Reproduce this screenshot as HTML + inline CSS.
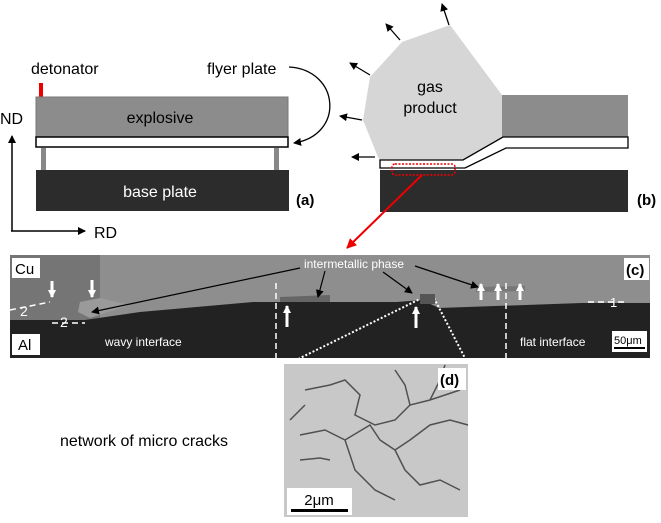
<!DOCTYPE html>
<html><head><meta charset="utf-8"><style>
body{margin:0;background:#fff}
svg{display:block;font-family:"Liberation Sans",Arial,sans-serif}
</style></head><body>
<svg width="661" height="523" viewBox="0 0 661 523" xmlns="http://www.w3.org/2000/svg">
<defs>
<marker id="ah" markerWidth="8" markerHeight="8" refX="7" refY="4" orient="auto" markerUnits="userSpaceOnUse"><path d="M0,0 L8,4 L0,8 z" fill="#000"/></marker>
<marker id="ahr" markerWidth="10" markerHeight="10" refX="9" refY="5" orient="auto" markerUnits="userSpaceOnUse"><path d="M0,0 L10,5 L0,10 z" fill="#e00"/></marker>
<marker id="ahw" markerWidth="8" markerHeight="8" refX="7" refY="4" orient="auto" markerUnits="userSpaceOnUse"><path d="M0,0 L8,4 L0,8 z" fill="#fff"/></marker>
</defs>
<!-- (a) -->
<text x="31" y="74" font-size="16">detonator</text>
<rect x="39" y="83" width="4" height="20" fill="#e00"/>
<rect x="36" y="97" width="252" height="40" fill="#8c8c8c" stroke="#777"/>
<text x="160" y="123" font-size="16" text-anchor="middle">explosive</text>
<rect x="36" y="137" width="252" height="10" fill="#fff" stroke="#000" stroke-width="1.5"/>
<rect x="41" y="148" width="5" height="22" fill="#888"/>
<rect x="274" y="148" width="5" height="22" fill="#888"/>
<rect x="36" y="170" width="253" height="41" fill="#2c2c2c"/>
<text x="160" y="197" font-size="16" text-anchor="middle" fill="#fff">base plate</text>
<text x="296" y="205" font-size="15" font-weight="bold">(a)</text>
<text x="207" y="74" font-size="16">flyer plate</text>
<path d="M289,67 C340,70 345,135 294,143" fill="none" stroke="#000" stroke-width="1.3" marker-end="url(#ah)"/>
<text x="0" y="124" font-size="16">ND</text>
<path d="M12,231 L12,136" stroke="#000" stroke-width="1.5" marker-end="url(#ah)"/>
<path d="M11,231 L85,231" stroke="#000" stroke-width="1.5" marker-end="url(#ah)"/>
<text x="94" y="238" font-size="16">RD</text>
<!-- (b) -->
<polygon points="370,77 402,42 450,25 502,95 503,137 463,160 380,160 378,157 363,120" fill="#d6d6d6"/>
<text x="430" y="92" font-size="16" text-anchor="middle">gas</text>
<text x="430" y="113" font-size="16" text-anchor="middle">product</text>
<rect x="502" y="95" width="126" height="42" fill="#8c8c8c"/>
<path d="M380,160 L463,160 L503,137 L628,137 L628,148 L506,148 L465,168 L380,168 Z" fill="#fff" stroke="#000" stroke-width="1.3"/>
<rect x="380" y="170" width="248" height="42" fill="#2c2c2c"/>
<rect x="392" y="164" width="63" height="11" rx="3" fill="none" stroke="#e00" stroke-width="1.5" stroke-dasharray="2,1.5"/>
<text x="637" y="205" font-size="15" font-weight="bold">(b)</text>
<g stroke="#000" stroke-width="1.3">
<path d="M449,25 L442,4" marker-end="url(#ah)"/>
<path d="M400,40 L386,24" marker-end="url(#ah)"/>
<path d="M370,75 L350,63" marker-end="url(#ah)"/>
<path d="M362,120 L340,116" marker-end="url(#ah)"/>
<path d="M375,157 L352,157" marker-end="url(#ah)"/>
</g>
<path d="M422,175 L347,248" stroke="#e00" stroke-width="2" marker-end="url(#ahr)"/>
<!-- (c) -->
<rect x="10" y="255" width="640" height="103" fill="#8e8e8e"/>
<rect x="10" y="255" width="90" height="65" fill="#757575"/>
<path d="M10,320 L85,320 L140,312 L253,302 L397,302 L422,300 L439,308 L582,303 L650,303 L650,358 L10,358 Z" fill="#222"/>
<path d="M80,302 L100,298 L130,305 L90,318 L78,312 Z" fill="#9a9a9a"/>
<path d="M280,297 L330,295 L330,302 L280,302 Z" fill="#666"/>
<path d="M476,287 L525,286 L525,291 L476,292 Z" fill="#777"/>
<g stroke="#fff" stroke-width="1.5" stroke-dasharray="6,4" fill="none">
<path d="M276,283 L276,358"/><path d="M506,283 L506,358"/>
<path d="M10,310 L50,302"/><path d="M52,323 L85,323"/><path d="M588,302 L628,302"/>
</g>
<g stroke="#fff" stroke-width="2" stroke-dasharray="2,2" fill="none">
<path d="M422,298 L288,364"/><path d="M434,298 L468,364"/>
</g>
<rect x="420" y="294" width="15" height="10" fill="#555"/>
<g fill="#fff" font-size="14">
<text x="20" y="316">2</text><text x="60" y="327">2</text><text x="610" y="307" font-size="13">1</text>
<text x="105" y="346" font-size="12">wavy interface</text>
<text x="520" y="346" font-size="12">flat interface</text>
<text x="354" y="268" font-size="12" text-anchor="middle">intermetallic phase</text>
</g>
<g stroke="#fff" stroke-width="3">
<path d="M52,281 L52,297" marker-end="url(#ahw)"/><path d="M92,280 L92,297" marker-end="url(#ahw)"/>
<path d="M287,327 L287,306" marker-end="url(#ahw)"/><path d="M416,328 L416,307" marker-end="url(#ahw)"/>
<path d="M481,300 L481,284" marker-end="url(#ahw)"/><path d="M498,300 L498,284" marker-end="url(#ahw)"/>
<path d="M520,300 L520,284" marker-end="url(#ahw)"/>
</g>
<g stroke="#000" stroke-width="1.2">
<path d="M300,268 L92,312" marker-end="url(#ah)"/>
<path d="M325,271 L318,297" marker-end="url(#ah)"/>
<path d="M383,272 L412,293" marker-end="url(#ah)"/>
<path d="M415,266 L478,287" marker-end="url(#ah)"/>
</g>
<rect x="12" y="258" width="28" height="20" fill="#fff"/>
<text x="15" y="274" font-size="15">Cu</text>
<rect x="12" y="334" width="28" height="21" fill="#fff"/>
<text x="18" y="350" font-size="15">Al</text>
<rect x="624" y="258" width="25" height="22" fill="#fff"/>
<text x="626" y="275" font-size="15" font-weight="bold">(c)</text>
<rect x="612" y="331" width="35" height="21" fill="#fff"/>
<text x="614" y="344" font-size="11">50μm</text>
<rect x="614" y="347" width="31" height="2" fill="#000"/>
<!-- (d) -->
<rect x="284" y="364" width="184" height="153" fill="#c8c8c8"/>
<g stroke="#333" stroke-width="1.5" fill="none" opacity="0.8">
<path d="M305,390 L330,385 L345,380 L360,395 L355,415 L375,425 L395,420 L410,405 L430,400 L460,390"/>
<path d="M300,435 L325,430 L345,440 L355,470 L375,490 L395,500"/>
<path d="M345,440 L370,425 L380,440 L395,450 L410,440 L430,425 L450,420 L468,425"/>
<path d="M395,450 L405,470 L420,485 L440,480 L460,490"/>
<path d="M300,460 L320,458 L330,460"/><path d="M430,400 L440,380 L445,365"/>
<path d="M410,405 L405,385 L395,370"/><path d="M290,420 L305,405"/>
</g>
<rect x="438" y="368" width="28" height="22" fill="#fff"/>
<text x="440" y="385" font-size="15" font-weight="bold">(d)</text>
<rect x="287" y="488" width="65" height="27" fill="#fff"/>
<text x="319" y="505" font-size="15" text-anchor="middle">2μm</text>
<rect x="291" y="509" width="57" height="3" fill="#000"/>
<text x="60" y="446" font-size="16">network of micro cracks</text>
</svg>
</body></html>
